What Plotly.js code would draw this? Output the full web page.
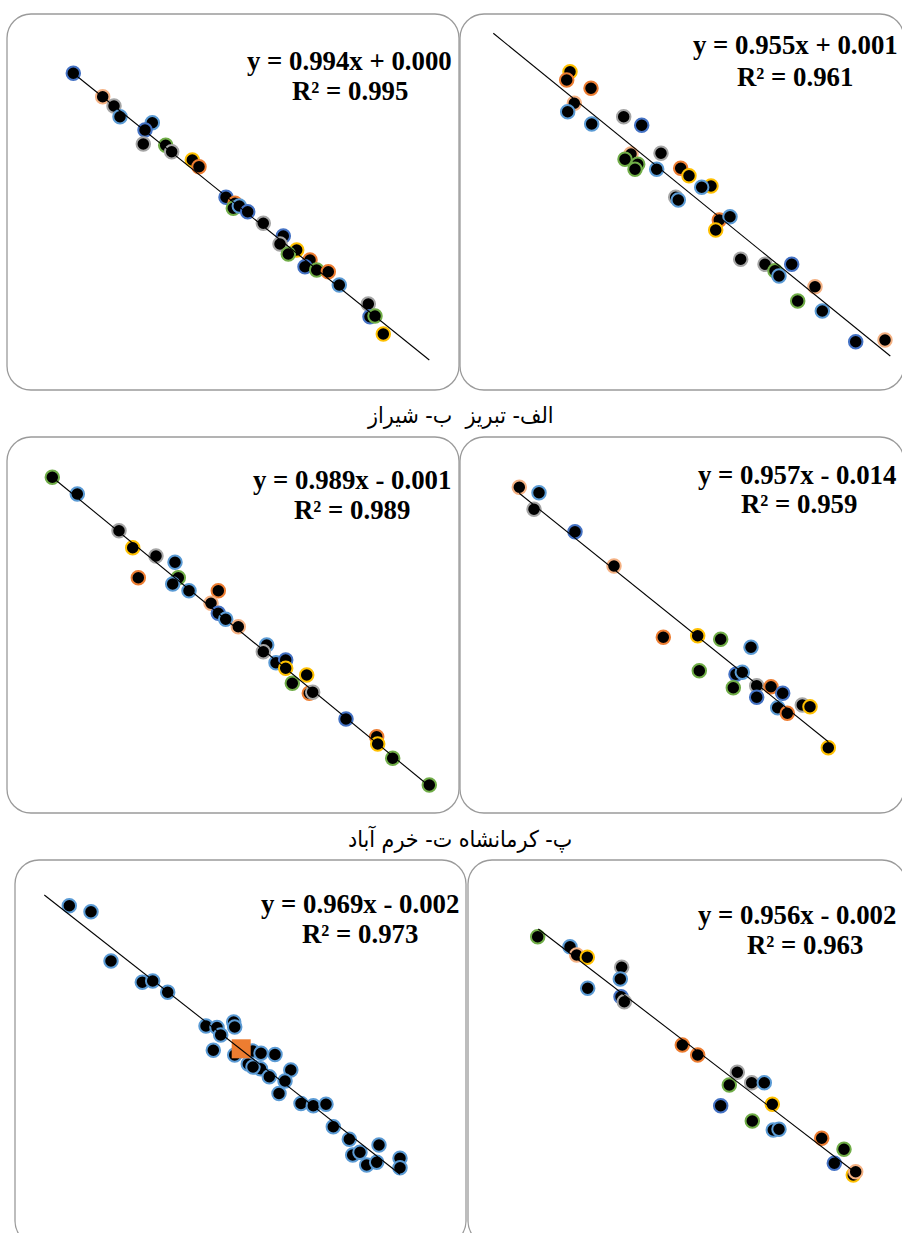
<!DOCTYPE html>
<html><head><meta charset="utf-8">
<script src="https://cdn.plot.ly/plotly-3.0.1.min.js"></script>
<style>html,body{margin:0;padding:0;background:#fff}</style>
</head><body><div id="chart" style="width:902px;height:1233px"></div>
<script>
// ---------- DATA (arbitrary units) ----------
// series index per point: 1..7 (Excel-style series)
const topLeftX = [0.663,0.957,1.07,1.13,1.453,1.38,1.363,1.587,1.647,1.853,1.92,2.19,2.28,2.263,2.323,2.407,2.563,2.763,2.73,2.897,2.813,3.03,2.98,3.097,3.213,3.323,3.613,3.63,3.68,3.763];
const topLeftY = [0.593,0.827,0.92,1.027,1.087,1.16,1.30,1.313,1.377,1.46,1.527,1.833,1.893,1.943,1.92,1.977,2.093,2.22,2.30,2.36,2.40,2.46,2.527,2.56,2.577,2.71,2.90,3.027,3.02,3.20];
const topLeftS = [1,7,3,5,5,1,3,6,3,4,2,1,2,6,5,1,3,1,3,4,6,2,1,6,2,5,3,1,6,4];
const topLeftTrendX = [0.66,4.223];
const topLeftTrendY = [0.59,3.46];

const topRightX = [1.10,1.067,1.31,1.143,1.077,1.317,1.637,1.817,1.71,1.65,1.777,1.75,2.01,1.967,2.207,2.29,2.51,2.417,2.157,2.183,2.593,2.70,2.557,2.807,3.05,3.15,3.19,3.317,3.55,3.377,3.623,3.957,4.25];
const topRightY = [0.577,0.66,0.743,0.893,0.977,1.10,1.027,1.113,1.40,1.453,1.503,1.553,1.393,1.553,1.543,1.617,1.72,1.733,1.833,1.86,2.06,2.027,2.16,2.453,2.503,2.567,2.62,2.503,2.727,2.87,2.97,3.277,3.26];
const topRightS = [4,2,2,7,5,5,3,1,7,6,6,6,3,5,2,4,4,5,3,5,2,5,4,3,3,6,5,1,7,6,5,1,7];
const topRightTrendX = [0.333,4.303];
const topRightTrendY = [0.193,3.42];

const midLeftX = [0.453,0.703,1.12,1.257,1.49,1.68,1.313,1.713,1.657,1.82,2.113,2.04,2.113,2.187,2.313,2.597,2.563,2.69,2.787,2.787,2.997,2.853,3.023,3.057,3.39,3.697,3.707,3.857,4.223];
const midLeftY = [0.403,0.57,0.937,1.107,1.19,1.253,1.407,1.407,1.47,1.537,1.537,1.663,1.763,1.823,1.897,2.08,2.147,2.257,2.23,2.313,2.38,2.463,2.563,2.553,2.82,2.997,3.07,3.213,3.48];
const midLeftS = [6,5,3,4,3,5,2,6,5,5,2,7,1,5,7,5,3,5,1,4,4,6,2,3,1,2,4,6,6];
const midLeftTrendX = [0.453,4.23];
const midLeftTrendY = [0.403,3.497];

const midRightX = [0.593,0.79,0.74,1.15,1.54,2.033,2.377,2.607,2.91,2.393,2.76,2.823,2.733,2.967,3.11,3.227,2.967,3.177,3.273,3.423,3.50,3.683];
const midRightY = [0.503,0.557,0.723,0.947,1.29,2.003,1.987,2.023,2.103,2.337,2.373,2.353,2.507,2.487,2.497,2.563,2.603,2.707,2.763,2.68,2.697,3.107];
const midRightS = [7,5,3,1,7,2,4,6,5,6,1,5,6,3,2,1,1,5,2,3,4,4];
const midRightTrendX = [0.593,3.683];
const midRightTrendY = [0.563,3.047];

const bottomLeftX = [0.543,0.76,0.96,1.273,1.377,1.527,1.91,2.02,2.057,2.187,2.197,1.983,2.197,2.333,2.375,2.46,2.60,2.455,2.38,2.543,2.758,2.70,2.64,2.86,2.983,3.11,3.183,3.343,3.64,3.377,3.45,3.517,3.617,3.85,3.85];
const bottomLeftY = [0.457,0.517,1.01,1.223,1.21,1.323,1.66,1.675,1.75,1.62,1.67,1.903,1.95,2.04,1.91,1.933,1.945,2.088,2.07,2.167,2.10,2.21,2.335,2.435,2.457,2.443,2.667,2.793,2.85,2.95,2.923,3.05,3.023,2.983,3.077];
const bottomLeftS = [5,5,5,5,5,5,5,5,5,5,5,5,5,5,5,5,5,5,5,5,5,5,5,5,5,5,5,5,5,5,5,5,5,5,5];
const bottomLeftMarkX = [2.262];
const bottomLeftMarkY = [1.888];
const bottomLeftTrendX = [0.293,3.85];
const bottomLeftTrendY = [0.35,3.143];

const bottomRightX = [0.697,1.02,1.087,1.193,1.537,1.523,1.197,1.53,1.563,2.143,2.297,2.693,2.613,2.837,2.963,2.527,3.043,2.843,3.053,3.11,3.537,3.76,3.663,3.853,3.877];
const bottomRightY = [0.767,0.867,0.95,0.973,1.073,1.19,1.283,1.367,1.417,1.85,1.95,2.123,2.25,2.227,2.227,2.457,2.443,2.61,2.70,2.693,2.783,2.893,3.033,3.15,3.117];
const bottomRightS = [6,5,7,4,3,5,5,1,3,2,2,3,6,3,5,1,4,6,5,5,2,6,1,4,7];
const bottomRightTrendX = [0.703,3.853];
const bottomRightTrendY = [0.69,3.11];

const equations = ["y = 0.994x + 0.000","y = 0.955x + 0.001","y = 0.989x - 0.001","y = 0.957x - 0.014","y = 0.969x - 0.002","y = 0.956x - 0.002"];
const r2Labels = ["R² = 0.995","R² = 0.961","R² = 0.989","R² = 0.959","R² = 0.973","R² = 0.963"];
const captions = ["الف- تبریز  ب- شیراز","پ- کرمانشاه ت- خرم آباد"];

// ---------- STYLE / LAYOUT ----------
const W = 902, H = 1233;
const seriesColors = {1:'#4472C4',2:'#ED7D31',3:'#A5A5A5',4:'#FFC000',5:'#5B9BD5',6:'#70AD47',7:'#F4B183'};

const panels = [
  {x:topLeftX, y:topLeftY, s:topLeftS, tx:topLeftTrendX, ty:topLeftTrendY, box:[7,14,459,390], eq:[349,61.5,350,91.5]},
  {x:topRightX, y:topRightY, s:topRightS, tx:topRightTrendX, ty:topRightTrendY, box:[460,14,904,390], eq:[795,45.5,795,77]},
  {x:midLeftX, y:midLeftY, s:midLeftS, tx:midLeftTrendX, ty:midLeftTrendY, box:[7,437,459,813], eq:[352,480,352,510]},
  {x:midRightX, y:midRightY, s:midRightS, tx:midRightTrendX, ty:midRightTrendY, box:[460,437,904,813], eq:[797,475,799,504]},
  {x:bottomLeftX, y:bottomLeftY, s:bottomLeftS, tx:bottomLeftTrendX, ty:bottomLeftTrendY, box:[15,860,466,1245], eq:[360,904,360,933.5],
   mark:{x:bottomLeftMarkX, y:bottomLeftMarkY}},
  {x:bottomRightX, y:bottomRightY, s:bottomRightS, tx:bottomRightTrendX, ty:bottomRightTrendY, box:[468,860,906,1245], eq:[797,915,805,945]}
];
const captionPos = [[460,415],[460,839]];

const PX = v => v / W, PY = v => 1 - v / H;
function roundRect(L,T,R,B,r){
  const k = 0.5523*r;
  const f = (x,y)=> PX(x).toFixed(5)+','+PY(y).toFixed(5);
  return 'M'+f(L+r,T)+' L'+f(R-r,T)+' C'+f(R-r+k,T)+' '+f(R,T+r-k)+' '+f(R,T+r)+
    ' L'+f(R,B-r)+' C'+f(R,B-r+k)+' '+f(R-r+k,B)+' '+f(R-r,B)+
    ' L'+f(L+r,B)+' C'+f(L+r-k,B)+' '+f(L,B-r+k)+' '+f(L,B-r)+
    ' L'+f(L,T+r)+' C'+f(L,T+r-k)+' '+f(L+r-k,T)+' '+f(L+r,T)+' Z';
}

const traces = [], shapes = [], annotations = [];
const layout = {
  width: W, height: H, margin:{l:0,r:0,t:0,b:0},
  paper_bgcolor:'#fff', plot_bgcolor:'rgba(0,0,0,0)', showlegend:false
};
const eqFont = {family:'"Liberation Serif","Times New Roman",serif', size:26.8, color:'#000'};

panels.forEach((p,i)=>{
  const n = i===0 ? '' : String(i+1);
  const [L,T,R,B] = p.box;
  const Rc = Math.min(R,W), Bc = Math.min(B,H);
  const axBase = {visible:false, showgrid:false, zeroline:false, fixedrange:true};
  layout['xaxis'+n] = Object.assign({}, axBase, {domain:[PX(L), PX(Rc)], range:[0,(Rc-L)/100], anchor:'y'+n});
  layout['yaxis'+n] = Object.assign({}, axBase, {domain:[PY(Bc), PY(T)], range:[(Bc-T)/100, 0], anchor:'x'+n});
  shapes.push({type:'path', xref:'paper', yref:'paper', layer:'below', path:roundRect(L,T,R,B,24),
    line:{color:'#9A9A9A', width:1.3}, fillcolor:'rgba(0,0,0,0)'});
  traces.push({type:'scatter', mode:'markers', x:p.x, y:p.y, xaxis:'x'+n, yaxis:'y'+n, hoverinfo:'skip',
    marker:{color:'#000', size:13.5, line:{width:2, color:p.s.map(s=>seriesColors[s])}}});
  if (p.mark) {
    traces.push({type:'scatter', mode:'markers', x:p.mark.x, y:p.mark.y, xaxis:'x'+n, yaxis:'y'+n, hoverinfo:'skip',
      marker:{symbol:'square', color:'#ED7D31', size:19, line:{width:0}}});
  }
  traces.push({type:'scatter', mode:'lines', x:p.tx, y:p.ty, xaxis:'x'+n, yaxis:'y'+n, hoverinfo:'skip',
    line:{color:'#000', width:1.1}});
  annotations.push({xref:'paper', yref:'paper', x:PX(p.eq[0]), y:PY(p.eq[1]), xanchor:'center', yanchor:'middle',
    showarrow:false, text:'<b>'+equations[i]+'</b>', font:eqFont});
  annotations.push({xref:'paper', yref:'paper', x:PX(p.eq[2]), y:PY(p.eq[3]), xanchor:'center', yanchor:'middle',
    showarrow:false, text:'<b>'+r2Labels[i]+'</b>', font:eqFont});
});
captions.forEach((c,i)=>{
  annotations.push({xref:'paper', yref:'paper', x:PX(captionPos[i][0]), y:PY(captionPos[i][1]), xanchor:'center', yanchor:'middle',
    showarrow:false, text:c, font:{family:'"DejaVu Sans Condensed","DejaVu Sans",sans-serif', size:23, color:'#000'}});
});
layout.shapes = shapes;
layout.annotations = annotations;

Plotly.newPlot('chart', traces, layout, {staticPlot:true, displayModeBar:false});
</script></body></html>
